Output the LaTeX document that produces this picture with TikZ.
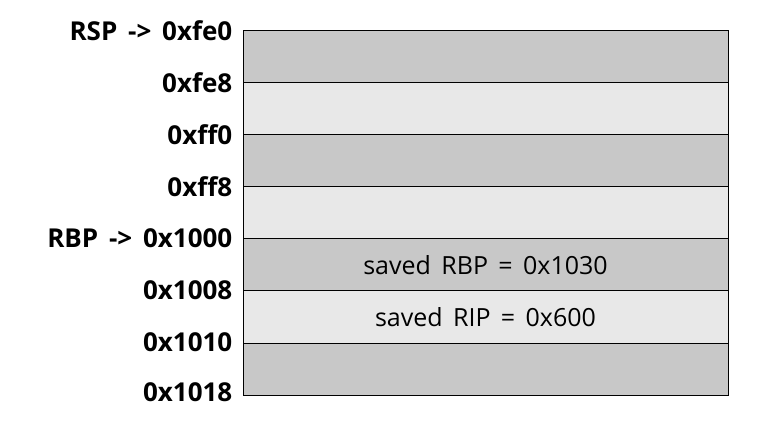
\documentclass[tikz,border=0pt]{standalone}
\usepackage{fontspec}
\setmainfont{Open Sans}[WordSpace=1.6]
\definecolor{darkcell}{HTML}{C8C8C8}
\definecolor{lightcell}{HTML}{E8E8E8}
\tikzset{
  cell/.style={draw,line width=1pt,minimum width=485pt,minimum height=52pt,inner sep=0pt,font=\fontsize{25}{29}\selectfont},
  addr/.style={anchor=east,inner sep=0pt,font=\fontsize{26}{30}\selectfont\bfseries},
}
\begin{document}
\begin{tikzpicture}[x=1pt,y=-1pt]
  \useasboundingbox (0,0) rectangle (763,430);
  % stack cells, top to bottom
  \foreach \i/\c/\t in {0/darkcell/,1/lightcell/,2/darkcell/,3/lightcell/,4/darkcell/saved RBP = 0x1030,5/lightcell/saved RIP = 0x600,6/darkcell/}
    \node[cell,fill=\c] (r\i) at (485.5,57+52*\i) {\t};
  % addresses
  \foreach \i/\t in {0/RSP -> 0xfe0,1/0xfe8,2/0xff0,3/0xff8,4/RBP -> 0x1000,5/0x1008,6/0x1010}
    \node[addr] (a\i) at ([xshift=-10pt]r\i.north west) {\t};
  \node[addr] (a7) at ([xshift=-10pt,yshift=3pt]r6.south west) {0x1018};
\end{tikzpicture}
\end{document}
